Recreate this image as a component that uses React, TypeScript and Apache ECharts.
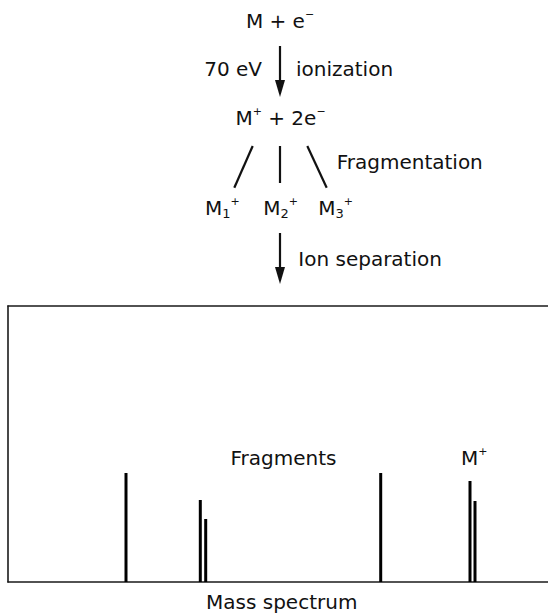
import React, { useEffect, useRef } from "react";
import * as echarts from "echarts";

// m/z positions (arbitrary units) and relative intensities of the peaks
const masses: number[] = [118, 192.3, 197.7, 372.7, 462, 467];
const intensities: number[] = [109, 82, 63, 109, 101, 81];

const X_MIN = 0;
const X_MAX = 540;
const Y_MAX = 276;

const FAMILY = '"DejaVu Sans", sans-serif';
const FONT = `20px ${FAMILY}`;

const RICH = {
  n: { fontSize: 20, fontFamily: FAMILY, lineHeight: 24, verticalAlign: "middle", fill: "#111" },
  sup: { fontSize: 11, fontFamily: FAMILY, lineHeight: 16, verticalAlign: "top", fill: "#111" },
  sub: { fontSize: 13, fontFamily: FAMILY, lineHeight: 12, verticalAlign: "bottom", fill: "#111" },
};

export default function App() {
  const ref = useRef<HTMLDivElement>(null);
  useEffect(() => {
    if (!ref.current) return;
    const chart = echarts.init(ref.current, null, { renderer: "svg" });
    const txt = (text: string, x: number, y: number, align: string = "left") => ({
      type: "text",
      x,
      y,
      style: { text, font: FONT, fill: "#111", textAlign: align, textVerticalAlign: "middle" },
      z: 10,
    });
    const rich = (text: string, x: number, y: number, align: string = "left") => ({
      type: "text",
      x,
      y,
      style: { text, rich: RICH, fill: "#111", textAlign: align, textVerticalAlign: "middle" },
      z: 10,
    });
    const seg = (x1: number, y1: number, x2: number, y2: number) => ({
      type: "line",
      shape: { x1, y1, x2, y2 },
      style: { stroke: "#111", lineWidth: 2.2 },
      z: 10,
    });
    const arrowHead = (x: number, yTop: number, yTip: number) => ({
      type: "polygon",
      shape: { points: [[x - 5, yTop], [x + 5, yTop], [x, yTip]] },
      style: { fill: "#111" },
      z: 10,
    });
    const hiddenAxis = {
      axisTick: { show: false },
      axisLabel: { show: false },
      splitLine: { show: false },
    };
    const boxLine = { show: true, lineStyle: { color: "#1a1a1a", width: 1.6 } };
    chart.setOption({
      animation: false,
      grid: { left: 8, right: 0, top: 306, bottom: 32, show: false },
      xAxis: [
        { type: "value", min: X_MIN, max: X_MAX, position: "bottom", axisLine: boxLine, ...hiddenAxis },
        { type: "value", min: X_MIN, max: X_MAX, position: "top", axisLine: boxLine, ...hiddenAxis },
      ],
      yAxis: {
        type: "value",
        min: 0,
        max: Y_MAX,
        position: "left",
        axisLine: boxLine,
        ...hiddenAxis,
      },
      series: [
        {
          type: "bar",
          barWidth: 3,
          xAxisIndex: 0,
          itemStyle: { color: "#000" },
          data: masses.map((m, i) => [m, intensities[i]]),
        },
      ],
      graphic: [
        rich("{n|M + e}{sup|\u2212}", 280, 21, "center"),
        seg(280, 46, 280, 86),
        arrowHead(280, 80, 97),
        txt("70 eV", 262, 69, "right"),
        txt("ionization", 296, 69, "left"),
        rich("{n|M}{sup|+}{n| + 2e}{sup|\u2212}", 280.5, 118, "center"),
        seg(252.7, 146, 234.3, 187.7),
        seg(280, 146, 280, 183),
        seg(307.3, 146, 326.7, 187.7),
        txt("Fragmentation", 336.7, 162, "left"),
        rich("{n|M}{sub|1}{sup|+}", 205, 208, "left"),
        rich("{n|M}{sub|2}{sup|+}", 263.3, 208, "left"),
        rich("{n|M}{sub|3}{sup|+}", 318.3, 208, "left"),
        seg(280, 233, 280, 272),
        arrowHead(280, 267, 284),
        txt("Ion separation", 298.3, 259, "left"),
        txt("Fragments", 283.5, 458, "center"),
        rich("{n|M}{sup|+}", 461, 458, "left"),
        txt("Mass spectrum", 281.7, 602, "center"),
      ],
    });
    return () => chart.dispose();
  }, []);
  return (
    <div
      ref={ref}
      style={{ position: "absolute", left: 0, top: 0, width: 548, height: 614, background: "#fff" }}
    />
  );
}
